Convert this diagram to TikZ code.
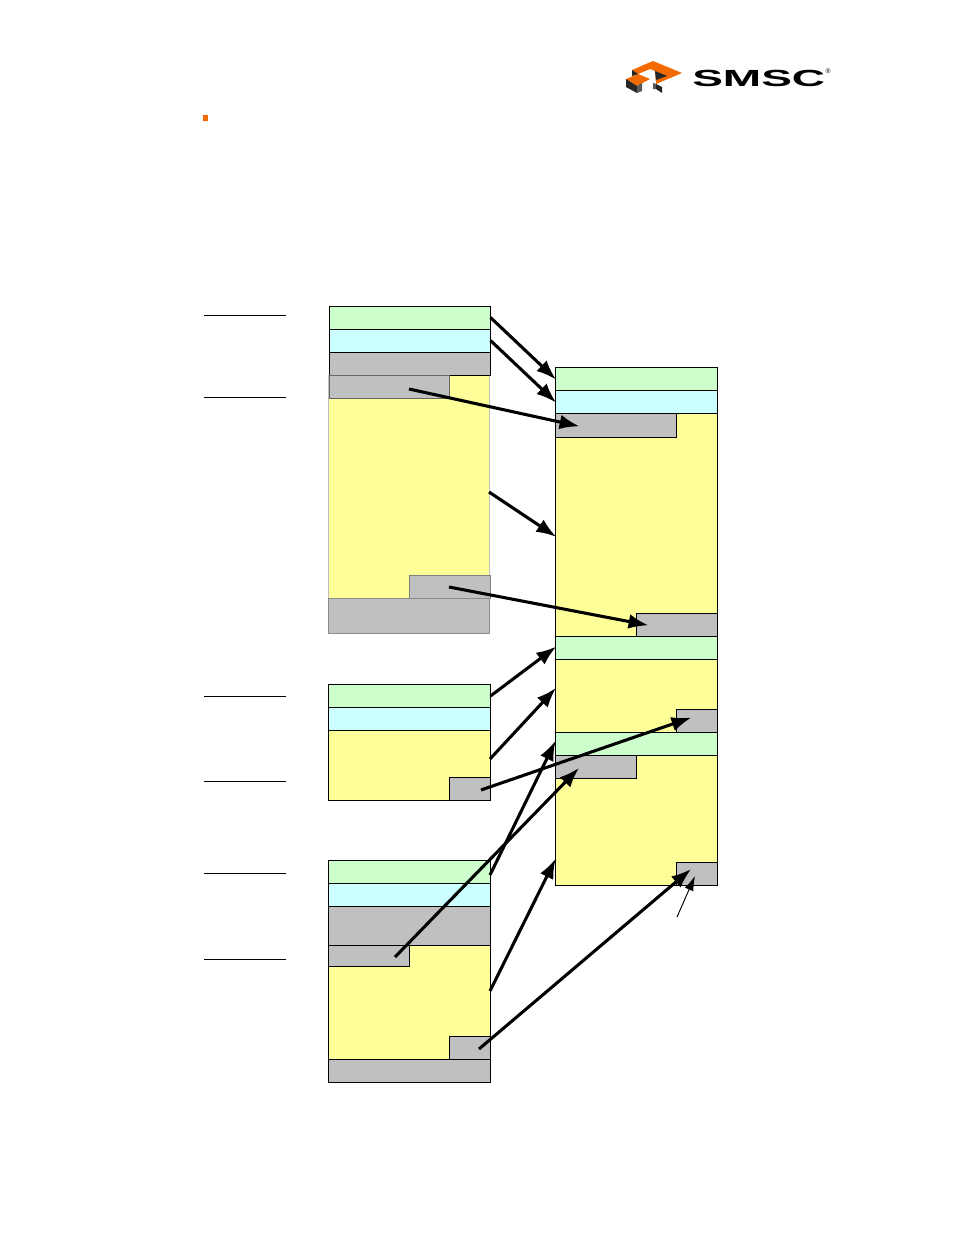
\documentclass[tikz,border=0pt]{standalone}
\usepackage{fontspec}
\setmainfont{Liberation Sans}
\usetikzlibrary{arrows.meta}
\definecolor{frameGreen}{HTML}{CCFFCC}
\definecolor{frameCyan}{HTML}{CCFFFF}
\definecolor{frameYellow}{HTML}{FFFF99}
\definecolor{frameGray}{HTML}{C0C0C0}
\definecolor{logoOrange}{HTML}{F26A00}
\begin{document}
\begin{tikzpicture}[x=0.75pt,y=-0.75pt,block/.style={draw=black,line width=0.75pt,rectangle,inner sep=0pt,outer sep=0pt},
green block/.style={block,fill=frameGreen},
cyan block/.style={block,fill=frameCyan},
yellow block/.style={block,fill=frameYellow},
gray block/.style={block,fill=frameGray},
flow/.style={-{Latex[length=15pt,width=11pt]},line width=2.3pt,shorten >=-1.2pt},
marker/.style={draw=black,line width=0.9pt}]
\useasboundingbox (0,0) rectangle (954,1235);
\newcommand{\blockat}[6]{\node[#1,anchor=north west,minimum width=#4*0.75pt,minimum height=#5*0.75pt] (#6) at (#2,#3) {};}
% first source frame
\blockat{yellow block,draw=black!25}{328.5}{375}{161}{223}{aY}
\blockat{green block}{329.5}{306}{161}{23}{aG}
\blockat{cyan block}{329.5}{329}{161}{23}{aC}
\blockat{gray block}{329.5}{352}{161}{23}{aH}
\blockat{gray block,draw=black!60}{329.5}{375}{120}{23}{aP}
\blockat{gray block,draw=black!50}{409}{575}{81}{23}{aT}
\blockat{gray block,draw=black!45}{328.5}{598}{161}{35}{aF}
% second source frame
\blockat{yellow block}{328.5}{730.5}{162}{69.5}{bY}
\blockat{green block}{328.5}{684.5}{162}{23}{bG}
\blockat{cyan block}{328.5}{707.5}{162}{23}{bC}
\blockat{gray block}{449.5}{777}{41}{23}{bT}
% third source frame
\blockat{yellow block}{328.5}{945}{162}{114}{cY}
\blockat{green block}{328.5}{860}{162}{23}{cG}
\blockat{cyan block}{328.5}{883}{162}{23}{cC}
\blockat{gray block}{328.5}{906}{162}{39}{cH}
\blockat{gray block}{328.5}{945}{81}{21}{cP}
\blockat{gray block}{449.5}{1036}{41}{23}{cT}
\blockat{gray block}{328.5}{1059}{162}{23}{cF}
% merged frame
\blockat{yellow block}{555}{413}{162}{223}{dY}
\blockat{green block}{555}{367}{162}{23}{dG}
\blockat{cyan block}{555}{390}{162}{23}{dC}
\blockat{gray block}{555}{413}{121}{24}{dP}
\blockat{gray block}{636}{613}{81}{23}{dT}
\blockat{yellow block}{555}{659}{162}{73}{eY}
\blockat{green block}{555}{636}{162}{23}{eG}
\blockat{gray block}{676}{709}{41}{23}{eT}
\blockat{yellow block}{555}{755}{162}{130}{fY}
\blockat{green block}{555}{732}{162}{23}{fG}
\blockat{gray block}{555}{755}{81}{23}{fP}
\blockat{gray block}{676}{862}{41}{23}{fT}
% free ends of the arrows inside blocks
\coordinate (s1) at (489,492);
\coordinate (s2) at (490,759);
\coordinate (s3) at (490,991);
\coordinate (t1) at (555,536);
\coordinate (t2) at (555,689);
\coordinate (t3) at (555,860);
\coordinate (s4) at (409,389);
\coordinate (s5) at (449,587);
\coordinate (s6) at (481,790);
\coordinate (s7) at (395,957);
\coordinate (s8) at (479,1049);
\coordinate (s9) at (677,917);
\coordinate (s10) at (490,875);
\coordinate (t4) at (578,426);
\coordinate (t5) at (647,625);
\coordinate (t6) at (690,718);
\coordinate (t7) at (578,769);
\coordinate (t8) at (690,870);
\coordinate (t9) at (695,876);
\coordinate (t10) at (555,742);
\draw[flow] (aG.east) -- (dG.west);
\draw[flow] (aC.east) -- (dC.west);
\draw[flow] (s4) -- (t4);
\draw[flow] (s1) -- (t1);
\draw[flow] (s5) -- (t5);
\draw[flow] (bG.east) -- (eG.west);
\draw[flow] (s2) -- (t2);
\draw[flow] (s6) -- (t6);
\draw[flow] (s10) -- (t10);
\draw[flow] (s7) -- (t7);
\draw[flow] (s3) -- (t3);
\draw[flow] (s8) -- (t8);
\draw[-{Latex[length=11pt,width=7pt]},line width=0.7pt] (s9) -- (t9);
% rules on the left
\foreach \rowY in {315.5,397.5,696.5,781.5,873.5,959.5}
  \draw[marker] (204,\rowY) -- (286,\rowY);
% bullet
\fill[logoOrange] (203,115) rectangle (208,121);
% logo
\fill[logoOrange] (632,70) -- (653,61) -- (682,73) -- (656,84) -- (655,71) -- (650,69) -- (638,74) -- cycle;
\fill[logoOrange] (626,79) -- (638,74) -- (650,79) -- (637,86) -- cycle;
\fill[black!85] (632,70) -- (638,74) -- (632,76) -- cycle;
\fill[black!85] (655,71) -- (667,76) -- (656,80) -- cycle;
\fill[black!85] (626,79) -- (637,86) -- (637,93) -- (626,87) -- cycle;
\fill[black!65] (637,86) -- (642,83) -- (642,91) -- (637,93) -- cycle;
\fill[black!65] (653,83) -- (656,84) -- (656,89) -- (653,89) -- cycle;
\fill[black!85] (656,84) -- (662,87) -- (662,93) -- (656,89) -- cycle;
\node[anchor=west,inner sep=0pt,font=\bfseries] (logoText) at (692,78) {\scalebox{3.45}[1.75]{SMSC}};
\node[anchor=center,inner sep=0pt,font=\fontsize{5}{5}\selectfont] (logoMark) at (828,71) {®};
\end{tikzpicture}
\end{document}
